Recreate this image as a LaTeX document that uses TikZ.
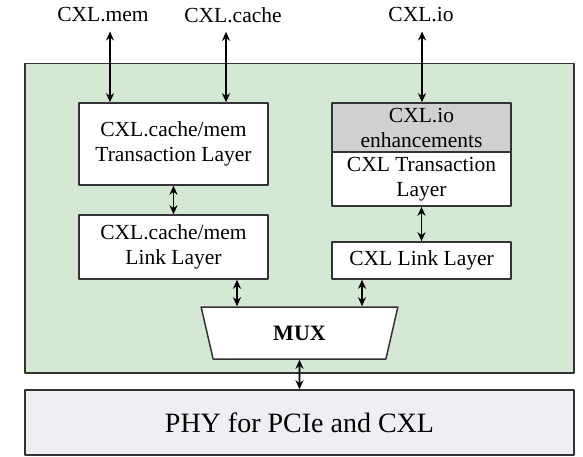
\documentclass[tikz,border=0pt]{standalone}
\usepackage{fontspec}
\setmainfont{Liberation Serif}
\usetikzlibrary{shapes.geometric,arrows.meta}
\definecolor{coregreen}{HTML}{D5E8D4}
\definecolor{enhgray}{HTML}{D0D0D0}
\definecolor{phygray}{HTML}{EEEFF2}
\definecolor{edgegray}{HTML}{333333}
\tikzset{
  layer/.style={draw=edgegray,line width=1.5pt,fill=white,align=center,inner sep=0pt,
    font=\fontsize{21.5}{25}\selectfont},
  proto/.style={inner xsep=0pt,inner ysep=9pt,font=\fontsize{21.5}{25}\selectfont},
  link/.style={<->,line width=1.6pt},
}
\begin{document}
\begin{tikzpicture}[x=1pt,y=-1pt,line join=round,>={Stealth[length=9pt,width=8pt]}]
  \useasboundingbox (0,0) rectangle (583,457);
  % green container and PHY
  \node[layer,fill=coregreen,minimum width=549pt,minimum height=309.5pt] (core) at (299.5,218.25) {};
  \node[layer,fill=phygray,minimum width=549pt,minimum height=65pt,
    font=\fontsize{28}{32}\selectfont] (phy) at (299.5,422.5) {PHY for PCIe and CXL};

  % cache/mem stack
  \node[layer,minimum width=189pt,minimum height=82pt] (cmtl) at (173.5,144) {CXL.cache/mem\\Transaction Layer};
  \node[layer,minimum width=189pt,minimum height=64pt] (cmll) at (173.5,247) {CXL.cache/mem\\Link Layer};

  % io stack
  \node[layer,fill=enhgray,minimum width=179pt,minimum height=49pt] (ioenh) at (421.5,127.5) {CXL.io\\enhancements};
  \node[layer,minimum width=179pt,minimum height=54pt] (iotl) at (421.5,179) {CXL Transaction\\Layer};
  \node[layer,minimum width=179pt,minimum height=37pt] (ioll) at (421.5,260.5) {CXL Link Layer};

  \node[layer,trapezium,shape border rotate=180,trapezium angle=76,trapezium stretches=true,
    minimum width=197pt,minimum height=52pt,font=\fontsize{22}{25}\selectfont\bfseries] (mux) at (299.5,333) {MUX};

  % protocol labels
  \node[proto] (mem) at (103,15) {CXL.mem};
  \node[proto] (cache) at (233,15) {CXL.cache};
  \node[proto] (io) at (421,15) {CXL.io};

  \coordinate (memx) at (110,0);
  \coordinate (cachex) at (226,0);
  \coordinate (iox) at (422,0);
  \coordinate (cmx) at (237,0);
  \coordinate (iomx) at (362,0);

  \draw[link] (memx |- mem.south) -- (memx |- cmtl.north);
  \draw[link] (cachex |- cache.south) -- (cachex |- cmtl.north);
  \draw[link] (iox |- io.south) -- (iox |- ioenh.north);

  \draw[link] (cmtl) -- (cmll);
  \draw[link] (iotl) -- (ioll);
  \draw[link] (cmx |- cmll.south) -- (cmx |- mux.north);
  \draw[link] (iomx |- ioll.south) -- (iomx |- mux.north);
  \draw[link] (mux) -- (phy);
\end{tikzpicture}
\end{document}
